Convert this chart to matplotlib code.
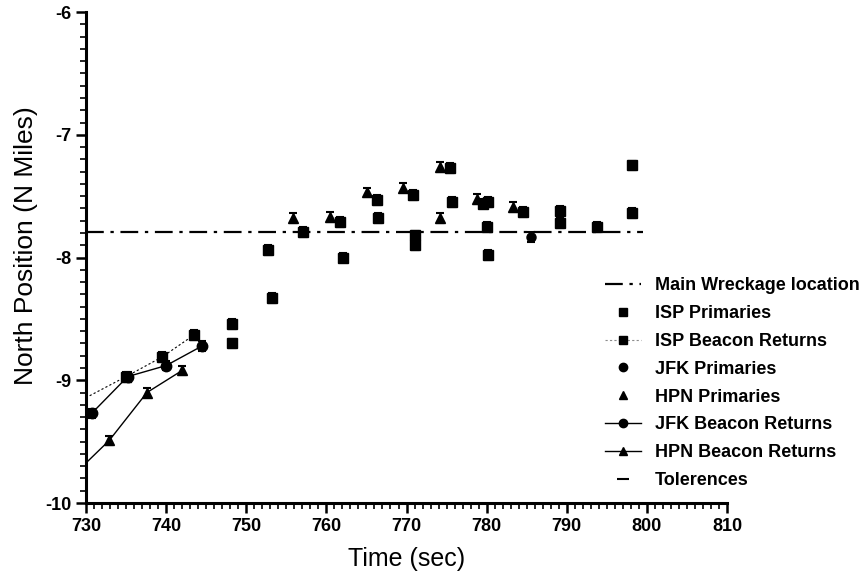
import matplotlib
matplotlib.use("Agg")
import matplotlib.pyplot as plt
from matplotlib.lines import Line2D
from matplotlib.ticker import MultipleLocator

plt.rcParams['font.family'] = ['Liberation Sans', 'DejaVu Sans']
plt.rcParams['axes.unicode_minus'] = False

# main wreckage reference line
wreck_t = [730, 799.5]
wreck_y = [-7.79, -7.79]

# ISP primaries (unconnected squares)
isp_prim_t = [748.2, 748.2, 752.7, 753.2, 757.1, 761.7, 762.1, 766.3, 766.5, 770.8,
              771.1, 771.1, 775.4, 775.7, 779.6, 780.2, 780.1, 780.2, 784.6, 789.2,
              789.2, 793.8, 798.2, 798.2]
isp_prim_y = [-8.54, -8.70, -7.94, -8.33, -7.79, -7.71, -8.00, -7.53, -7.68, -7.49,
              -7.82, -7.90, -7.27, -7.55, -7.56, -7.55, -7.75, -7.98, -7.63, -7.62,
              -7.72, -7.75, -7.25, -7.64]

# ISP beacon returns (dotted line)
isp_bcn_t = [728.0, 735.0, 739.5, 743.5]
isp_bcn_y = [-9.21, -8.97, -8.81, -8.63]

# JFK primaries
jfk_prim_t = [785.5]
jfk_prim_y = [-7.83]

# HPN primaries
hpn_prim_t = [755.8, 760.5, 765.1, 769.6, 774.2, 774.2, 778.8, 783.3]
hpn_prim_y = [-7.68, -7.67, -7.47, -7.43, -7.26, -7.68, -7.52, -7.59]

# JFK beacon returns (solid line)
jfk_bcn_t = [730.7, 735.2, 740.0, 744.5]
jfk_bcn_y = [-9.27, -8.97, -8.88, -8.72]

# HPN beacon returns (solid line)
hpn_bcn_t = [728.0, 732.9, 737.6, 742.0]
hpn_bcn_y = [-9.80, -9.49, -9.10, -8.92]

tol = 0.04

fig = plt.figure(figsize=(8.62, 5.76), dpi=100)
ax = fig.add_axes([0.0998, 0.1267, 0.7436, 0.8524])

ax.plot(wreck_t, wreck_y, color='black', lw=1.6, ls=(0, (8, 3, 1.5, 3)))

eb = dict(ecolor='black', elinewidth=1.0, capsize=3, capthick=1.5)
ax.errorbar(isp_prim_t, isp_prim_y, yerr=tol, fmt='s', color='black', ms=6.5, **eb)
ax.errorbar(isp_bcn_t, isp_bcn_y, yerr=tol, fmt='s', color='black', ms=6.5,
            ls=(0, (2, 2)), lw=0.8, **eb)
ax.lines[-1].set_color('0.55')
ax.errorbar(jfk_prim_t, jfk_prim_y, yerr=tol, fmt='o', color='black', ms=6.5, **eb)
ax.errorbar(hpn_prim_t, hpn_prim_y, yerr=tol, fmt='^', color='black', ms=7.5, **eb)
ax.errorbar(jfk_bcn_t, jfk_bcn_y, yerr=tol, fmt='o-', color='black', ms=7.5, lw=1.0, **eb)
ax.errorbar(hpn_bcn_t, hpn_bcn_y, yerr=tol, fmt='^-', color='black', ms=7.5, lw=1.0, **eb)

ax.set_xlim(730, 810)
ax.set_ylim(-10, -6)
ax.xaxis.set_major_locator(MultipleLocator(10))
ax.xaxis.set_minor_locator(MultipleLocator(1))
ax.yaxis.set_major_locator(MultipleLocator(1))
ax.yaxis.set_minor_locator(MultipleLocator(0.1))
ax.tick_params(which='major', direction='out', length=7, width=1.8, labelsize=13)
ax.tick_params(which='minor', direction='out', length=4, width=1.2)
for lab in ax.get_xticklabels() + ax.get_yticklabels():
    lab.set_fontweight('bold')
ax.spines['top'].set_visible(False)
ax.spines['right'].set_visible(False)
ax.spines['left'].set_linewidth(2.2)
ax.spines['bottom'].set_linewidth(2.2)

ax.set_xlabel('Time (sec)', fontsize=18, labelpad=9)
ax.set_ylabel('North Position (N Miles)', fontsize=19)
ax.yaxis.set_label_coords(-0.075, 0.525)

handles = [
    Line2D([], [], color='black', lw=1.6, ls=(0, (8, 3, 1.5, 3))),
    Line2D([], [], color='black', marker='s', ls='none', ms=6),
    Line2D([], [], color='0.55', marker='s', mfc='black', mec='black', ls=(0, (2, 2)), lw=0.8, ms=6),
    Line2D([], [], color='black', marker='o', ls='none', ms=6),
    Line2D([], [], color='black', marker='^', ls='none', ms=6),
    Line2D([], [], color='black', marker='o', ls='-', lw=1.0, ms=6),
    Line2D([], [], color='black', marker='^', ls='-', lw=1.0, ms=6),
    Line2D([], [], color='black', marker='_', ls='none', ms=8, mew=1.5),
]
labels = ['Main Wreckage location', 'ISP Primaries', 'ISP Beacon Returns', 'JFK Primaries',
          'HPN Primaries', 'JFK Beacon Returns', 'HPN Beacon Returns', 'Tolerences']
leg = fig.legend(handles, labels, loc='upper left', bbox_to_anchor=(0.6826, 0.547),
                 frameon=False, prop={'weight': 'bold', 'size': 13},
                 handlelength=2.0, labelspacing=0.6, handletextpad=0.8,
                 markerfirst=True)

fig.savefig('out.png', dpi=100)
